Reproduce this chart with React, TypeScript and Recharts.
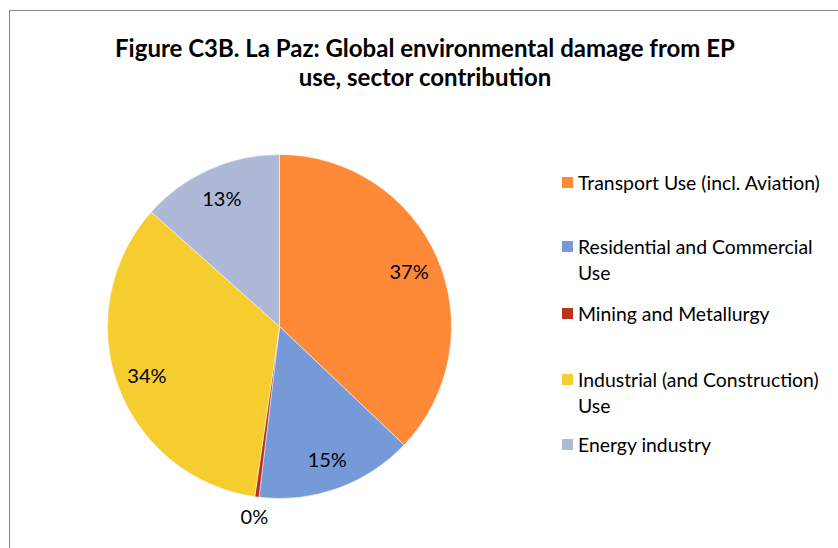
import React from "react";
import { PieChart, Pie, Cell } from "recharts";

const sectors = [
  "Transport Use (incl. Aviation)",
  "Residential and Commercial Use",
  "Mining and Metallurgy",
  "Industrial (and Construction) Use",
  "Energy industry",
];
const shares = [37.1, 14.8, 0.4, 34.3, 13.4];
const COLORS = ["#FE8A38", "#769AD8", "#B8321C", "#F5CD2F", "#ADB9D7"];

const data = sectors.map((name, i) => ({ name, value: shares[i] }));

const FONT = "Lato, 'Open Sans', sans-serif";
const RAD = Math.PI / 180;

// y of each legend entry (first line centre), in px
const LEGEND_Y = [183, 247, 314, 380, 445];

const renderLabel = (props: any) => {
  const { cx, cy, midAngle, percent, index } = props;
  const r = index === 2 ? 191 : 141;
  const x = cx + r * Math.cos(-midAngle * RAD);
  const y = cy + r * Math.sin(-midAngle * RAD);
  return (
    <text
      x={x}
      y={y}
      fill="#000"
      textAnchor="middle"
      dominantBaseline="central"
      fontFamily={FONT}
      fontSize={20}
    >
      {`${Math.round(percent * 100)}%`}
    </text>
  );
};

function ChartLegend() {
  return (
    <>
      {sectors.map((name, i) => (
        <div
          key={name}
          style={{
            position: "absolute",
            left: 562,
            top: LEGEND_Y[i] - 13,
            display: "flex",
            alignItems: "flex-start",
            fontFamily: FONT,
            fontSize: 19.4,
            lineHeight: "26px",
            color: "#000",
          }}
        >
          <span
            style={{
              width: 11,
              height: 11,
              marginTop: 7,
              marginRight: 5,
              background: COLORS[i],
              flex: "none",
            }}
          />
          <span style={{ width: 252 }}>{name}</span>
        </div>
      ))}
    </>
  );
}

export default function App() {
  return (
    <div
      style={{
        position: "absolute",
        left: 0,
        top: 0,
        width: 838,
        height: 548,
        background: "#fff",
        overflow: "hidden",
      }}
    >
      <div
        style={{
          position: "absolute",
          left: 9,
          top: 10,
          width: 900,
          height: 600,
          borderLeft: "1px solid #888",
          borderTop: "1px solid #888",
        }}
      />
      <div
        style={{
          position: "absolute",
          left: 4,
          top: 33,
          width: 842,
          textAlign: "center",
          fontFamily: FONT,
          fontWeight: 700,
          fontSize: 24,
          lineHeight: "29px",
        }}
      >
        Figure C3B. La Paz: Global environmental damage from EP
        <br />
        use, sector contribution
      </div>
      <div style={{ position: "absolute", left: 0, top: 0 }}>
        <PieChart
          width={838}
          height={548}
          margin={{ top: 0, right: 0, bottom: 0, left: 0 }}
        >
          <Pie
            data={data}
            dataKey="value"
            nameKey="name"
            cx={279.5}
            cy={326.5}
            outerRadius={172}
            startAngle={90}
            endAngle={-270}
            stroke="#fff"
            strokeWidth={0.5}
            label={renderLabel}
            labelLine={false}
            isAnimationActive={false}
          >
            {data.map((_, index) => (
              <Cell key={index} fill={COLORS[index]} />
            ))}
          </Pie>
        </PieChart>
      </div>
      <ChartLegend />
    </div>
  );
}
